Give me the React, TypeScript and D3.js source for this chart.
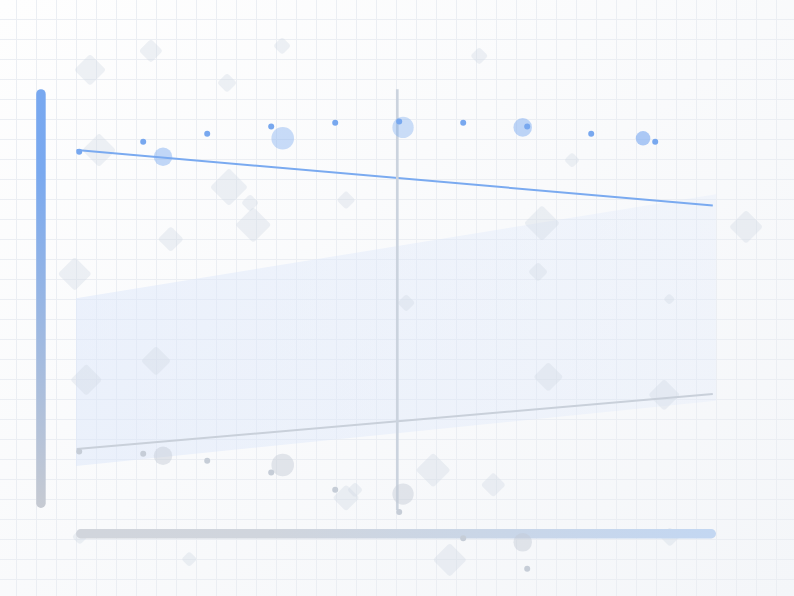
import * as d3 from 'd3';

// plot domain, both axes 0..100
const xDomain: [number, number] = [0, 100];
const yDomain: [number, number] = [0, 100];

// small series markers
const pointX = [0.5, 10.5, 20.5, 30.5, 40.5, 50.5, 60.5, 70.5, 80.5, 90.5];
const primaryValues = [85.3, 87.7, 89.6, 91.3, 92.2, 92.5, 92.2, 91.3, 89.6, 87.7];
const secondaryValues = [13.9, 13.4, 11.7, 8.9, 4.8, -0.5, -6.7, -14.0, -22.4, -31.7];

// bubbles
const bubbleX = [13.6, 32.3, 51.1, 69.8, 88.6];
const bubblePrimary = [84.1, 88.5, 91.1, 91.1, 88.5];
const bubbleSecondary = [12.9, 10.7, 3.8, -7.7, -23.8];
const bubbleWeight = [86, 128, 114, 86, 53];
const bubbleShade = [0.46, 0.4, 0.38, 0.48, 0.62];

// trend lines [x, y]
const primaryTrend: [number, number][] = [[0.1, 85.7], [99.5, 72.5]];
const secondaryTrend: [number, number][] = [[0.1, 14.5], [99.5, 27.6]];

// confidence band
const bandX = [0, 100];
const bandUpper = [50.4, 75.2];
const bandLower = [10.5, 26.0];

// marker line
const markerX = 50.2;
const markerRange: [number, number] = [0, 100.2];

// backdrop diamonds [x, y, size]
const diamonds: [number, number, number][] = [
  [2.2, 104.8, 16], [11.7, 109.3, 12], [23.6, 101.7, 10], [32.2, 110.5, 9],
  [63.0, 108.1, 9], [3.6, 85.7, 17], [23.9, 76.9, 19], [27.2, 73.1, 9],
  [27.7, 67.9, 18], [42.2, 73.8, 9.5], [14.8, 64.5, 13], [-0.2, 56.2, 17],
  [77.5, 83.3, 8], [72.8, 68.3, 18], [104.7, 67.4, 17], [72.2, 56.7, 10],
  [51.6, 49.3, 9], [92.7, 50.2, 6], [12.5, 35.5, 15], [1.6, 31.0, 16],
  [73.8, 31.7, 15], [91.9, 27.4, 16], [55.8, 9.5, 17.5], [65.2, 6.0, 12.5],
  [42.2, 2.9, 13.5], [43.6, 4.8, 8], [17.7, -11.7, 8], [58.4, -11.9, 17],
  [92.8, -6.4, 10], [0.6, -6.4, 8],
];

const W = 794;
const H = 596;

export default function App() {
  const x = d3.scaleLinear().domain(xDomain).range([76, 716]);
  const y = d3.scaleLinear().domain(yDomain).range([510, 90]);
  const r = d3.scaleSqrt().domain([0, d3.max(bubbleWeight) as number]).range([0, 11.3]);

  const line = d3.line<[number, number]>().x(d => x(d[0])).y(d => y(d[1]));
  const band = d3.area<number>()
    .x((_, i) => x(bandX[i]))
    .y0((_, i) => y(bandLower[i]))
    .y1((_, i) => y(bandUpper[i]));

  const gridX = d3.range(16.5, W, 20);
  const gridY = d3.range(19.5, H, 20);

  return (
    <svg width={W} height={H} style={{ position: 'absolute', left: 0, top: 0 }}>
      <defs>
        <linearGradient id="bg" x1="0" y1="0" x2="1" y2="1">
          <stop offset="0%" stopColor="#fefefe" />
          <stop offset="100%" stopColor="#f4f6f9" />
        </linearGradient>
        <linearGradient id="bandFill" x1="0" y1="0" x2="1" y2="0">
          <stop offset="0%" stopColor="#dbe6fa" stopOpacity={0.5} />
          <stop offset="100%" stopColor="#dbe6fa" stopOpacity={0.25} />
        </linearGradient>
        <linearGradient id="railV" x1="0" y1="0" x2="0" y2="1">
          <stop offset="0%" stopColor="#78a8f0" />
          <stop offset="20%" stopColor="#7aa9ef" />
          <stop offset="100%" stopColor="#c6cad2" />
        </linearGradient>
        <linearGradient id="railH" x1="0" y1="0" x2="1" y2="0">
          <stop offset="0%" stopColor="#d1d5dc" />
          <stop offset="30%" stopColor="#d0d5dd" />
          <stop offset="100%" stopColor="#c3d7f2" />
        </linearGradient>
      </defs>

      <rect width={W} height={H} fill="url(#bg)" />

      {/* grid */}
      <g stroke="#ebeef3" strokeWidth={1}>
        {gridX.map(gx => <line key={'gx' + gx} x1={gx} x2={gx} y1={0} y2={H} />)}
        {gridY.map(gy => <line key={'gy' + gy} x1={0} x2={W} y1={gy} y2={gy} />)}
      </g>

      {/* band */}
      <path d={band([0, 1]) as string} fill="url(#bandFill)" />

      {/* diamonds */}
      <g fill="#cfd8e3" fillOpacity={0.36}>
        {diamonds.map(([dx, dy, s], i) => {
          const side = s * Math.SQRT2;
          return (
            <rect
              key={'d' + i}
              x={-side / 2}
              y={-side / 2}
              width={side}
              height={side}
              rx={3}
              transform={`translate(${x(dx)},${y(dy)}) rotate(45)`}
            />
          );
        })}
      </g>

      {/* axis rails */}
      <rect x={36.2} y={y(100.2)} width={9.5} height={y(0.5) - y(100.2)} rx={4.75} fill="url(#railV)" />
      <rect x={x(0)} y={529} width={x(100) - x(0)} height={9.5} rx={4.75} fill="url(#railH)" />

      {/* trend lines */}
      <path d={line(primaryTrend) as string} fill="none" stroke="#7aaaf0" strokeWidth={2} />
      <path d={line(secondaryTrend) as string} fill="none" stroke="#c9d0da" strokeWidth={2} />

      {/* marker */}
      <line x1={x(markerX)} x2={x(markerX)} y1={y(markerRange[1])} y2={y(markerRange[0])} stroke="#cbd3de" strokeWidth={2.7} />

      {/* bubbles */}
      {bubbleX.map((bx, i) => (
        <circle key={'bp' + i} cx={x(bx)} cy={y(bubblePrimary[i])} r={r(bubbleWeight[i])} fill="#7aaaf0" fillOpacity={bubbleShade[i]} />
      ))}
      {bubbleX.map((bx, i) => (
        <circle key={'bs' + i} cx={x(bx)} cy={y(bubbleSecondary[i])} r={r(bubbleWeight[i])} fill="#c3cad4" fillOpacity={0.45} />
      ))}

      {/* points */}
      {pointX.map((px, i) => (
        <circle key={'pp' + i} cx={x(px)} cy={y(primaryValues[i])} r={3} fill="#78a8ef" />
      ))}
      {pointX.map((px, i) => (
        <circle key={'ps' + i} cx={x(px)} cy={y(secondaryValues[i])} r={3} fill="#c6cdd7" />
      ))}
    </svg>
  );
}
